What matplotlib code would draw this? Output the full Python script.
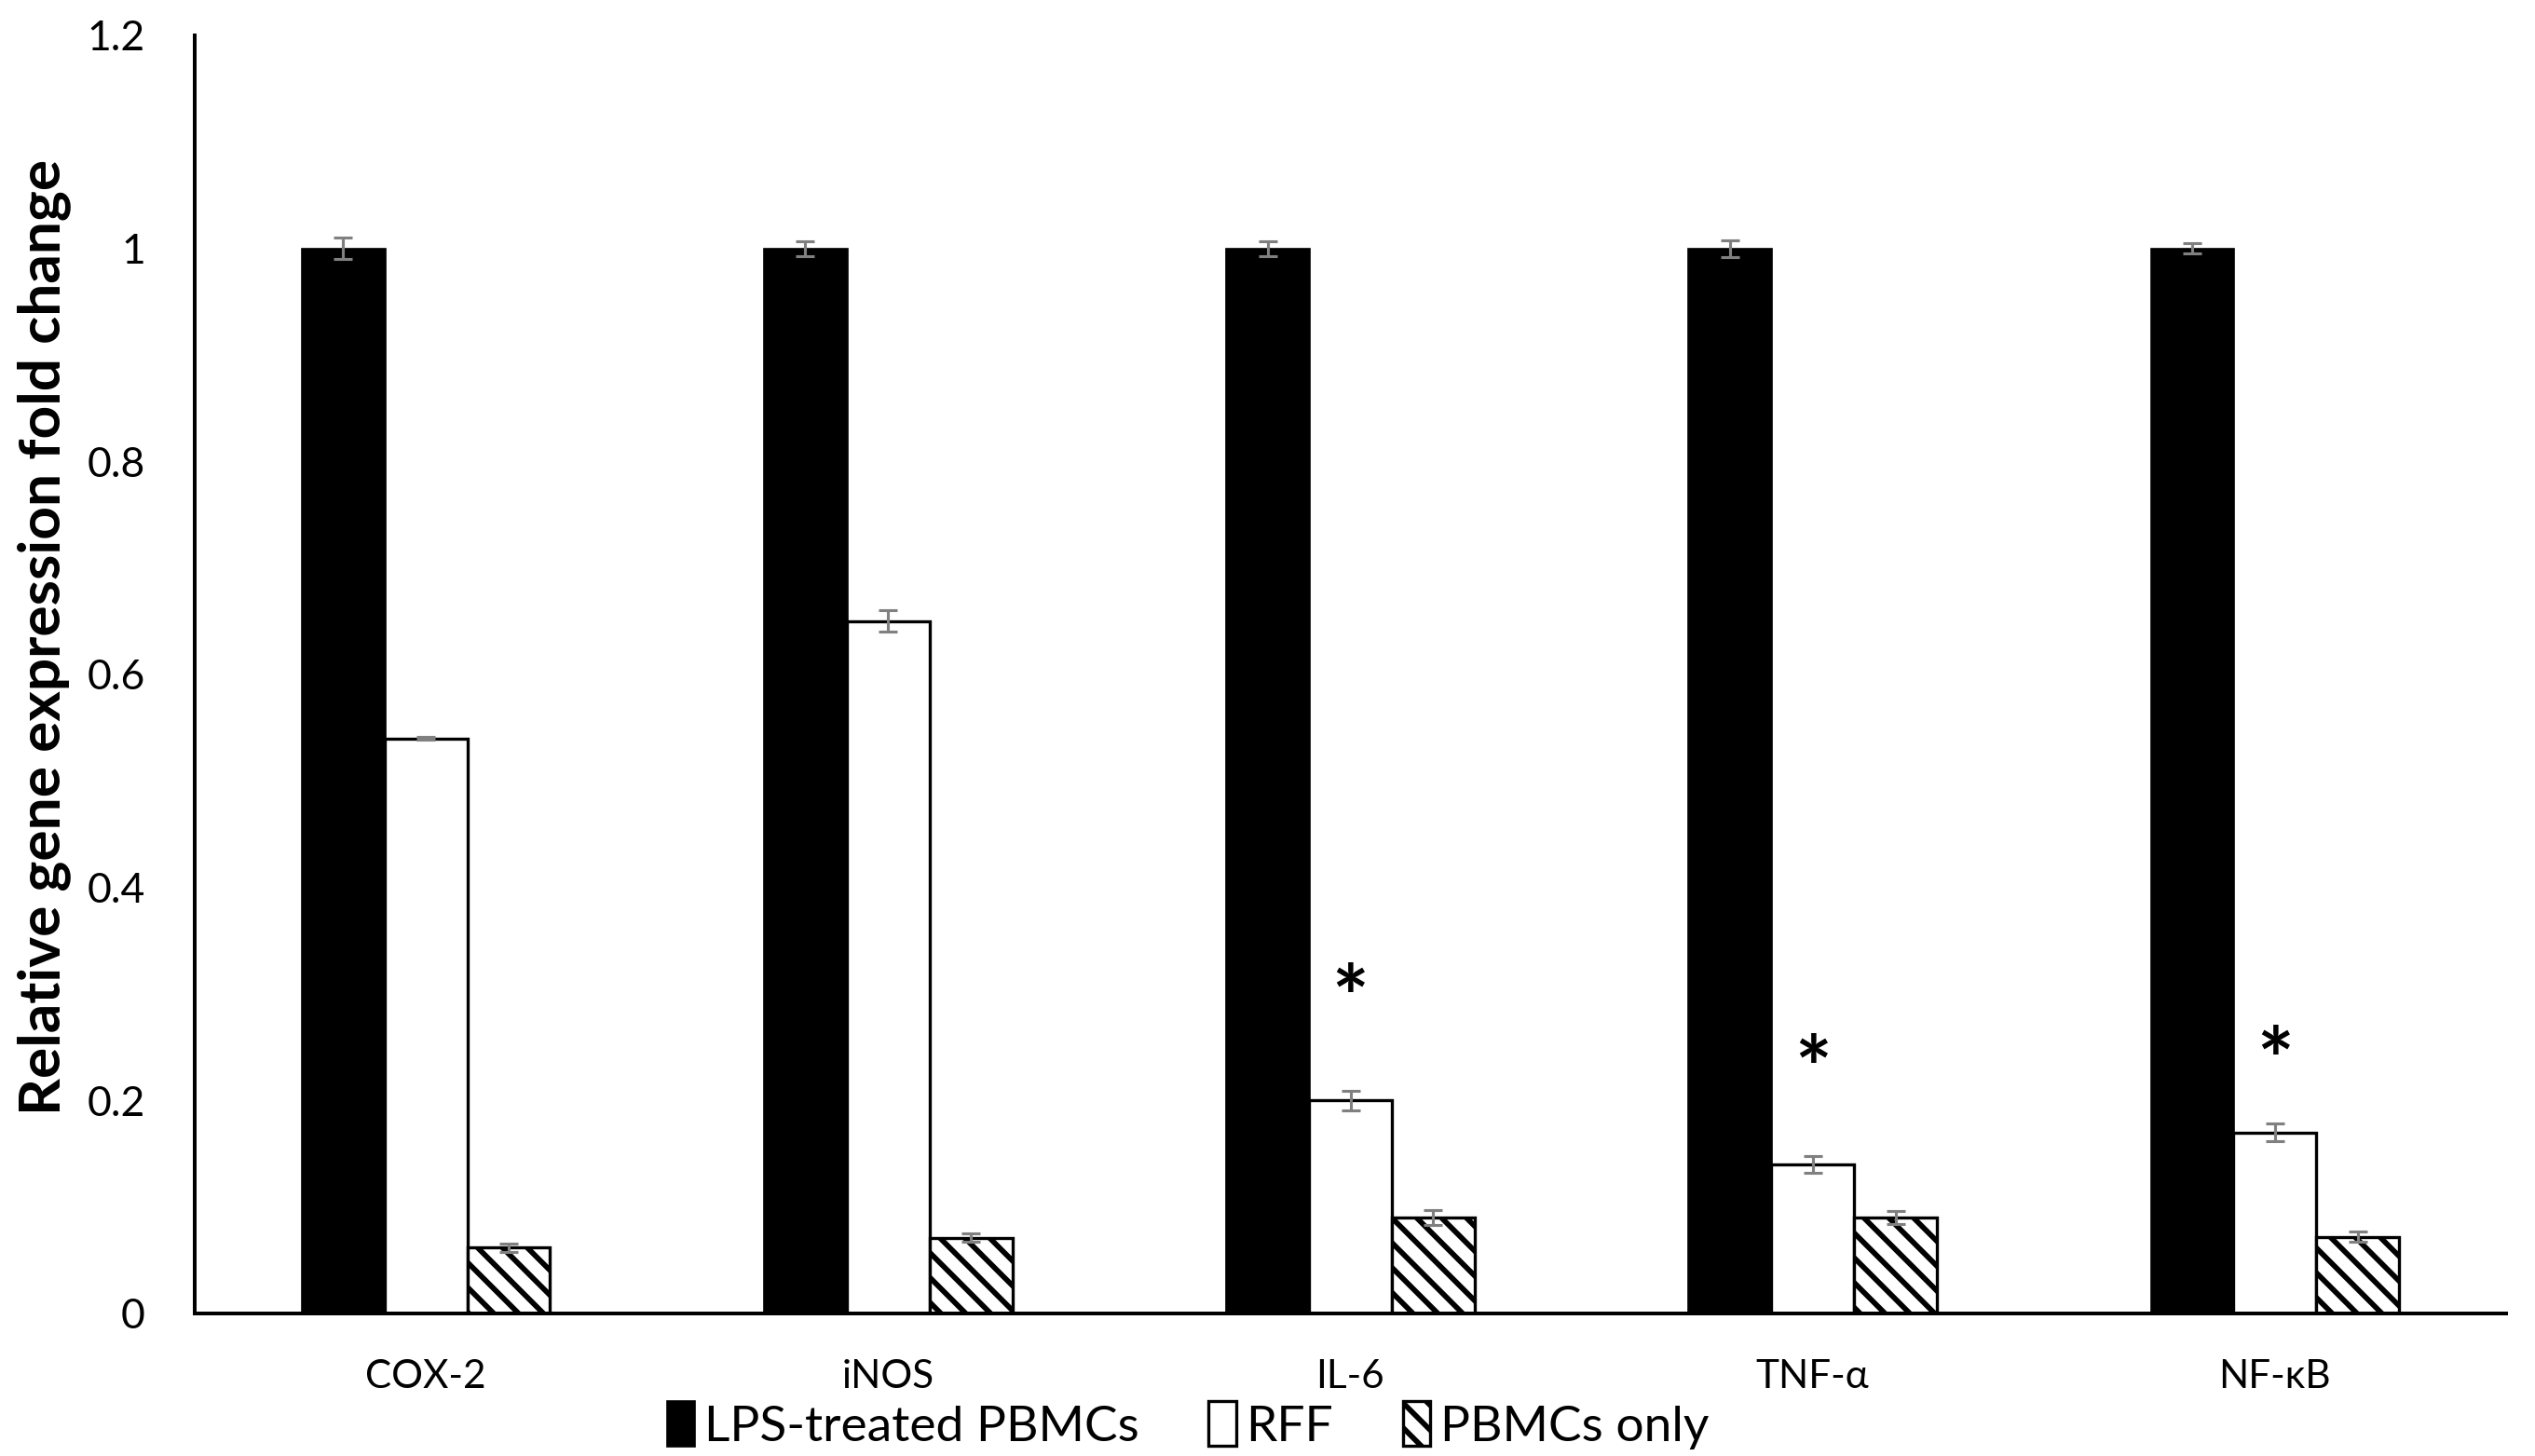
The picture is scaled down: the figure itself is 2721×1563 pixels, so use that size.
import matplotlib
matplotlib.use("Agg")
import matplotlib.pyplot as plt
import numpy as np
from matplotlib.patches import Patch

categories = ["COX-2", "iNOS", "IL-6", "TNF-α", "NF-κB"]
series_names = ["LPS-treated PBMCs", "RFF", "PBMCs only"]
lps_values = [1.0, 1.0, 1.0, 1.0, 1.0]
lps_errors = [0.010, 0.007, 0.007, 0.008, 0.005]
rff_values = [0.54, 0.65, 0.20, 0.14, 0.17]
rff_errors = [0.001, 0.010, 0.009, 0.008, 0.008]
pbmc_values = [0.062, 0.071, 0.090, 0.090, 0.072]
pbmc_errors = [0.004, 0.004, 0.007, 0.006, 0.005]
star_positions = [None, None, 0.291, 0.225, 0.233]
yticks = [0, 0.2, 0.4, 0.6, 0.8, 1.0, 1.2]
ytick_labels = ["0", "0.2", "0.4", "0.6", "0.8", "1", "1.2"]

FONT = ["Lato", "DejaVu Sans"]
plt.rcParams["font.family"] = FONT
plt.rcParams["hatch.linewidth"] = 2.6
plt.rcParams["hatch.color"] = "black"

DPI = 160
fig = plt.figure(figsize=(2721 / DPI, 1563 / DPI), dpi=DPI)
ax = fig.add_axes([209 / 2721, 1 - 1410 / 1563, (2690 - 209) / 2721, (1410 - 38) / 1563])

x = np.arange(len(categories))
w = 0.179
err_kw = dict(ecolor="#808080", elinewidth=1.4, capsize=4.7, capthick=1.4)

ax.bar(x - w, lps_values, w, color="black", edgecolor="black", linewidth=1.2,
       yerr=lps_errors, error_kw=err_kw, label=series_names[0])
ax.bar(x, rff_values, w, color="white", edgecolor="black", linewidth=1.5,
       yerr=rff_errors, error_kw=err_kw, label=series_names[1])
ax.bar(x + w, pbmc_values, w, color="white", edgecolor="black", linewidth=1.5,
       hatch="\\\\", yerr=pbmc_errors, error_kw=err_kw, label=series_names[2])

for xi, sp in zip(x, star_positions):
    if sp is not None:
        ax.text(xi, sp, "*", ha="center", va="center", fontsize=42,
                fontweight="bold", family=FONT)

ax.set_xlim(-0.5, len(categories) - 0.5)
ax.set_ylim(0, 1.2)
ax.set_yticks(yticks)
ax.set_yticklabels(ytick_labels)
ax.set_xticks(x)
ax.set_xticklabels(categories)
ax.tick_params(axis="y", length=0, pad=24, labelsize=20)
ax.tick_params(axis="x", length=0, pad=22, labelsize=19)
for s in ["top", "right"]:
    ax.spines[s].set_visible(False)
for s in ["left", "bottom"]:
    ax.spines[s].set_linewidth(1.8)
    ax.spines[s].set_color("black")

fig.text(47 / 2721, 1 - 684 / 1563, "Relative gene expression fold change",
         rotation=90, ha="center", va="center", fontsize=28, fontweight="bold")

handles = [
    Patch(facecolor="black", edgecolor="black", linewidth=1.2),
    Patch(facecolor="white", edgecolor="black", linewidth=1.5),
    Patch(facecolor="white", edgecolor="black", linewidth=1.5, hatch="\\\\"),
]
fig.legend(handles, series_names, loc="center", bbox_to_anchor=(1275 / 2721, 1 - 1530 / 1563),
           ncol=3, frameon=False, fontsize=24, handlelength=0.55, handleheight=1.0,
           handletextpad=0.2, columnspacing=1.4, borderpad=0, borderaxespad=0)

fig.savefig("out.png", dpi=DPI, facecolor="white")
